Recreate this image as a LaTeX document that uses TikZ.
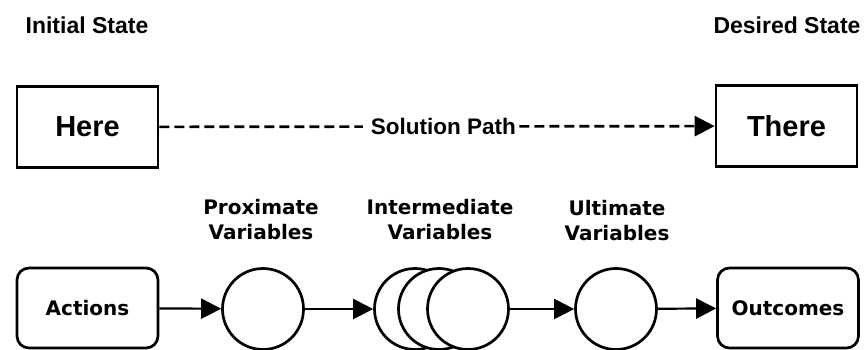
\documentclass[tikz,border=0pt]{standalone}
\usepackage{fontspec}
\setmainfont{Liberation Sans}
\newfontfamily\varfont{DejaVu Sans}
\usetikzlibrary{arrows.meta,positioning,calc}
\newcommand{\bw}{141pt}
\newcommand{\bh}{81pt}
\newcommand{\cdiam}{81pt}

\begin{document}
\begin{tikzpicture}[x=1pt,y=-1pt,>={Triangle[length=20pt,width=20pt]},
  statebox/.style={draw,line width=2.7pt,minimum width=\bw,minimum height=\bh,
    font=\fontsize{29}{29}\selectfont\bfseries},
  endbox/.style={draw,rounded corners=12pt,line width=2.7pt,minimum width=\bw,
    minimum height=80pt,font=\varfont\fontsize{20}{20}\selectfont\bfseries},
  varnode/.style={draw,circle,fill=white,line width=2.7pt,minimum size=\cdiam,inner sep=0pt},
  heading/.style={font=\fontsize{23}{23}\selectfont\bfseries},
  varlabel/.style={align=center,font=\varfont\fontsize{20}{25}\selectfont\bfseries},
  link/.style={->,line width=2.2pt}]
  \useasboundingbox (0,0) rectangle (867,350);

  % top row
  \node[heading] (init) at (87,25) {Initial State};
  \node[heading] (desired) at (787,25) {Desired State};
  \node[statebox] (here) at (87.5,127) {Here};
  \node[statebox] (there) at (786.5,126) {There};
  \draw[->,line width=2.7pt,dash pattern=on 10pt off 5pt] (here) -- (there)
    node[pos=0.505,fill=white,inner ysep=4pt,inner xsep=1pt,
      font=\fontsize{22.5}{22.5}\selectfont\bfseries] (path) {\hspace{7pt}Solution Path};

  % bottom row
  \node[endbox] (actions) at (87.5,308) {Actions};
  \node[varnode] (prox) at (263,309) {};
  \node[varnode] (inter1) at (415,309) {};
  \node[varnode] (inter2) at (439,309) {};
  \node[varnode] (inter3) at (468,309) {};
  \node[varnode] (ult) at (616,309) {};
  \node[endbox] (outcomes) at (788,308) {Outcomes};

  \node[varlabel] (proxl) at (261,220) {Proximate\\Variables};
  \node[varlabel] (interl) at (440,220) {Intermediate\\Variables};
  \node[varlabel] (ultl) at (617,221) {Ultimate\\Variables};

  \draw[link] (actions) -- (prox);
  \draw[link] (prox) -- (inter1);
  \draw[link] (inter3) -- (ult);
  \draw[link] (ult) -- (outcomes);
\end{tikzpicture}
\end{document}
